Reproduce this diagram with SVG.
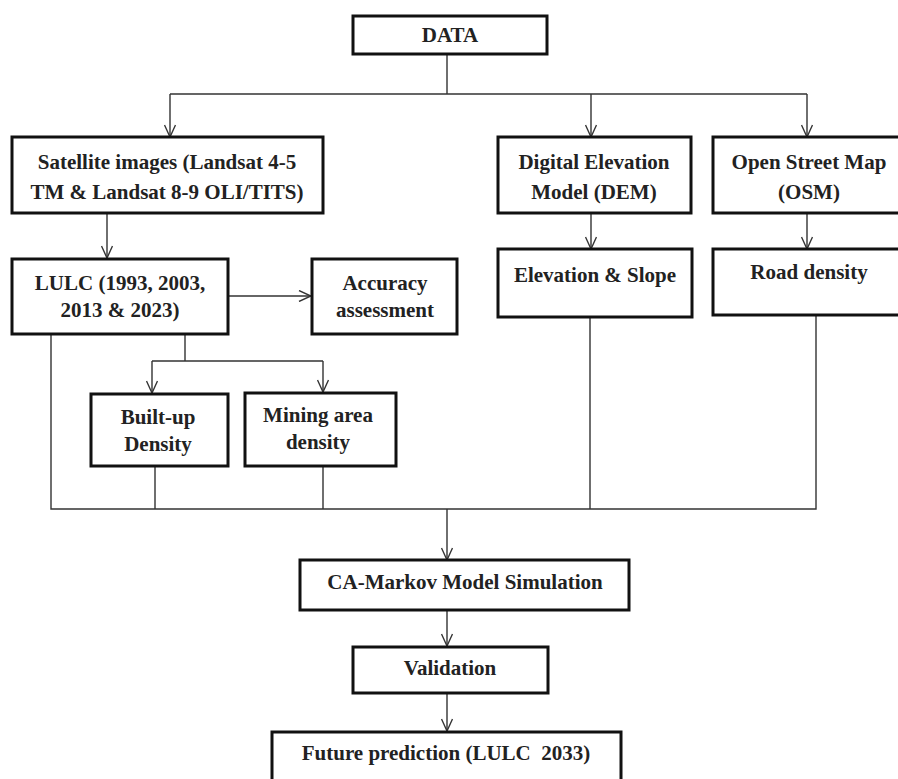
<svg xmlns="http://www.w3.org/2000/svg" width="898" height="779" viewBox="0 0 898 779">
<defs>
<marker id="arr" viewBox="0 0 14 12" refX="13" refY="6" markerWidth="14" markerHeight="12" markerUnits="userSpaceOnUse" orient="auto">
<path d="M1,0.5 L13,6 L1,11.5" fill="none" stroke="#333" stroke-width="1.4"/>
</marker>
</defs>
<style>
.box{fill:#fff;stroke:#111;stroke-width:3}
.t{font-family:"Liberation Serif","Times New Roman",serif;font-weight:bold;font-size:21px;fill:#222;text-anchor:middle}
.c{fill:none;stroke:#333;stroke-width:1.4}
</style>
<rect width="898" height="779" fill="#fff"/>
<g id="connectors">
<path class="c" d="M447,54 V94 M170,94 H807"/>
<path class="c" d="M170,94 V137" marker-end="url(#arr)"/>
<path class="c" d="M591,94 V137" marker-end="url(#arr)"/>
<path class="c" d="M807,94 V137" marker-end="url(#arr)"/>
<path class="c" d="M107,213 V258" marker-end="url(#arr)"/>
<path class="c" d="M591,213 V249" marker-end="url(#arr)"/>
<path class="c" d="M807,213 V249" marker-end="url(#arr)"/>
<path class="c" d="M228,296 H311" marker-end="url(#arr)"/>
<path class="c" d="M185,334 V361 M152,361 H323"/>
<path class="c" d="M152,361 V393" marker-end="url(#arr)"/>
<path class="c" d="M323,361 V392" marker-end="url(#arr)"/>
<path class="c" d="M51,334 V509 H816 V315 M155,466 V509 M323,466 V509 M590,317 V509"/>
<path class="c" d="M447,509 V560" marker-end="url(#arr)"/>
<path class="c" d="M447,610 V646" marker-end="url(#arr)"/>
<path class="c" d="M447,693 V731" marker-end="url(#arr)"/>
</g>
<g id="data"><rect class="box" x="353" y="16" width="194" height="38"/><text class="t" x="450" y="42">DATA</text></g>
<g id="satellite"><rect class="box" x="12" y="137" width="311" height="76"/><text class="t" x="167" y="169">Satellite images (Landsat 4-5</text><text class="t" x="167" y="199">TM &amp; Landsat 8-9 OLI/TITS)</text></g>
<g id="dem"><rect class="box" x="498" y="137" width="193" height="76"/><text class="t" x="594" y="169">Digital Elevation</text><text class="t" x="594" y="199">Model (DEM)</text></g>
<g id="osm"><rect class="box" x="713" y="137" width="190" height="76"/><text class="t" x="809" y="169">Open Street Map</text><text class="t" x="809" y="199">(OSM)</text></g>
<g id="lulc"><rect class="box" x="12" y="259" width="216" height="75"/><text class="t" x="120" y="290">LULC (1993, 2003,</text><text class="t" x="120" y="317">2013 &amp; 2023)</text></g>
<g id="accuracy"><rect class="box" x="312" y="259" width="145" height="75"/><text class="t" x="385" y="290">Accuracy</text><text class="t" x="385" y="317">assessment</text></g>
<g id="elevation"><rect class="box" x="498" y="249" width="194" height="68"/><text class="t" x="595" y="282">Elevation &amp; Slope</text></g>
<g id="road"><rect class="box" x="713" y="249" width="190" height="66"/><text class="t" x="809" y="279">Road density</text></g>
<g id="builtup"><rect class="box" x="91" y="394" width="137" height="72"/><text class="t" x="158" y="424">Built-up</text><text class="t" x="158" y="451">Density</text></g>
<g id="mining"><rect class="box" x="245" y="393" width="151" height="73"/><text class="t" x="318" y="422">Mining area</text><text class="t" x="318" y="449">density</text></g>
<g id="camarkov"><rect class="box" x="300" y="560" width="329" height="50"/><text class="t" x="465" y="589">CA-Markov Model Simulation</text></g>
<g id="validation"><rect class="box" x="353" y="647" width="195" height="46"/><text class="t" x="450" y="675">Validation</text></g>
<g id="future"><rect class="box" x="272" y="732" width="349" height="52"/><text class="t" x="446" y="760">Future prediction (LULC&#160; 2033)</text></g>
</svg>
